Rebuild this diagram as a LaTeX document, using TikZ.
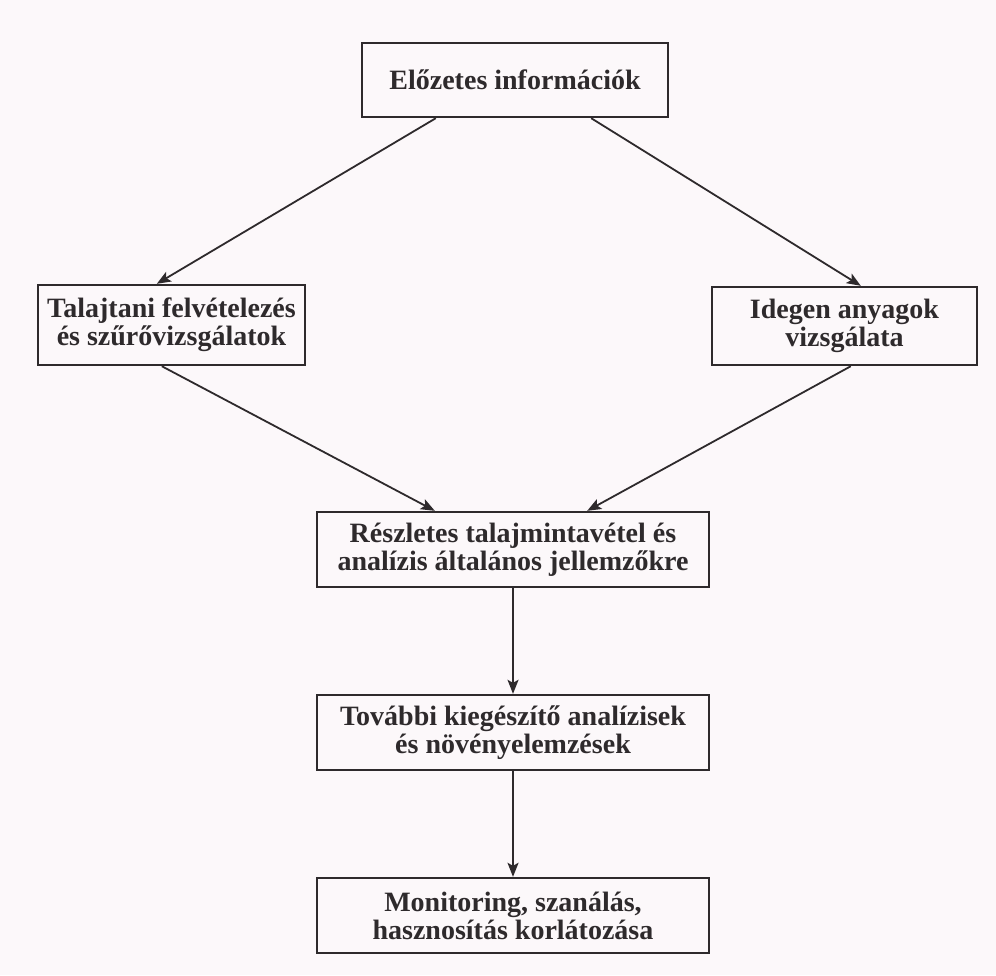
\documentclass[tikz,border=0pt]{standalone}
\usepackage{fontspec}
\setmainfont{Liberation Serif}
\usetikzlibrary{arrows.meta,calc}
\definecolor{bgcol}{HTML}{FCF8FA}
\definecolor{inkcol}{HTML}{2E2A2C}
\begin{document}
\begin{tikzpicture}[x=1pt,y=-1pt,
  box/.style={draw=inkcol,line width=2.4pt,rectangle,inner sep=0pt,align=center,
    text=inkcol,font=\fontsize{28}{28}\selectfont\bfseries},
  arr/.style={draw=inkcol,line width=1.8pt,-{Stealth[length=14pt,width=11pt,inset=3pt]}}]
\fill[bgcol] (0,0) rectangle (996,975);
\useasboundingbox (0,0) rectangle (996,975);
\node[box,minimum width=306pt,minimum height=74pt] (b1) at (515,80) {Előzetes információk};
\node[box,minimum width=267pt,minimum height=80pt] (b2) at (171.5,325) {Talajtani felvételezés\\és szűrővizsgálatok};
\node[box,minimum width=265pt,minimum height=78pt] (b3) at (844.5,326) {Idegen anyagok\\vizsgálata};
\node[box,minimum width=392pt,minimum height=75pt] (b4) at (513,549.5) {Részletes talajmintavétel és\\analízis általános jellemzőkre};
\node[box,minimum width=392pt,minimum height=75pt] (b5) at (513,732.5) {További kiegészítő analízisek\\és növényelemzések};
\node[box,minimum width=392pt,minimum height=75pt] (b6) at (513,915.5) {Monitoring, szanálás,\\hasznosítás korlátozása};
\draw[arr] ($(b1.south west)+(75,0)$) -- ($(b2.north west)+(120,0)$);
\draw[arr] ($(b1.south east)+(-78,0)$) -- ($(b3.north west)+(150,0)$);
\draw[arr] ($(b2.south west)+(125,0)$) -- ($(b4.north west)+(119,0)$);
\draw[arr] ($(b3.south west)+(140,0)$) -- ($(b4.north east)+(-123,0)$);
\draw[arr] (b4.south) -- (b5.north);
\draw[arr] (b5.south) -- (b6.north);
\end{tikzpicture}
\end{document}
